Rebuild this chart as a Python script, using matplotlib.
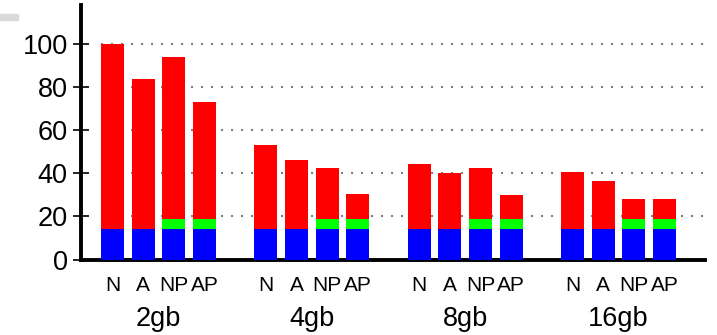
import matplotlib
matplotlib.use("Agg")
import matplotlib.pyplot as plt
from matplotlib.patches import Rectangle
import numpy as np

plt.rcParams["font.family"] = ["Liberation Sans", "DejaVu Sans"]

groups = ["2gb", "4gb", "8gb", "16gb"]
variants = ["N", "A", "NP", "AP"]
# total height of each bar, per group, in variant order
totals = [
    [100, 83.5, 94, 73],
    [53, 46, 42.5, 30.5],
    [44.5, 40, 42.5, 30],
    [40.5, 36.5, 28, 28],
]
base = [14, 14, 14, 14]     # blue segment
extra = [0, 0, 5, 5]        # green segment, only for the *P variants
yticks = [0, 20, 40, 60, 80, 100]

fig = plt.figure(figsize=(7.17, 3.35), dpi=100)
ax = fig.add_axes([81 / 717, 75.5 / 335, 624 / 717, 254.5 / 335])

width = 0.75
xs, labels = [], []
for g, name in enumerate(groups):
    pos = g * 5 + np.arange(len(variants))
    tot = np.array(totals[g])
    b = np.array(base)
    e = np.array(extra)
    ax.bar(pos, b, width, color="#0000ff", zorder=3)
    ax.bar(pos, e, width, bottom=b, color="#00ff00", zorder=3)
    ax.bar(pos, tot - b - e, width, bottom=b + e, color="#ff0000", zorder=3)
    xs.extend(pos)
    labels.extend(variants)
    ax.text(pos.mean(), -0.184, name, transform=ax.get_xaxis_transform(),
            ha="center", va="top", fontsize=19.5)

ax.set_xlim(-1.03, 19.32)
ax.set_ylim(0, 118)
ax.set_xticks(xs)
ax.set_xticklabels(labels, fontsize=15)
ax.tick_params(axis="x", length=0, pad=12)
ax.set_yticks(yticks)
ax.tick_params(axis="y", direction="inout", length=11, width=1.2,
               labelsize=19.5, pad=4)

for s in ("top", "right"):
    ax.spines[s].set_visible(False)
for s in ("left", "bottom"):
    ax.spines[s].set_linewidth(2.8)

# dotted guide lines start at the first bar, not at the axis
ax.hlines(yticks[1:], xs[0] - width / 2, ax.get_xlim()[1], color="#808080",
          linestyle=(0, (1, 3.8)), linewidth=1.5, zorder=1)

fig.patches.append(Rectangle((0, 1 - 20 / 335), 18 / 717, 6 / 335,
                             transform=fig.transFigure, color="#d9d9d9"))

fig.savefig("out.png", dpi=100)
